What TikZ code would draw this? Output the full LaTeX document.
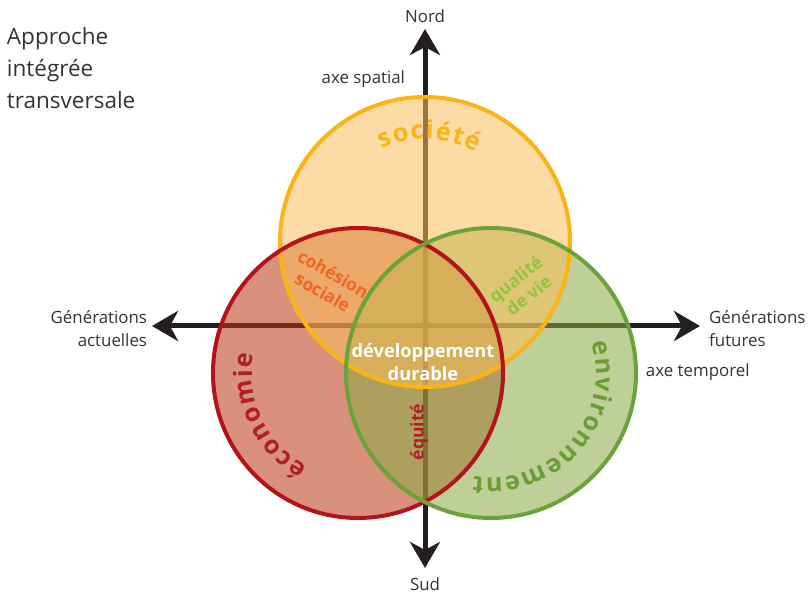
\documentclass[tikz,border=0pt]{standalone}
\usepackage{fontspec}
\setmainfont{Open Sans}
\usetikzlibrary{arrows.meta,positioning,calc,decorations.text}
\definecolor{axegrey}{HTML}{231F20}
\definecolor{socline}{HTML}{FBB416}
\definecolor{socfill}{HTML}{FBBE5B}
\definecolor{ecoline}{HTML}{B5121B}
\definecolor{ecofill}{HTML}{BA3713}
\definecolor{ecotext}{HTML}{B01E28}
\definecolor{envline}{HTML}{6BA33A}
\definecolor{envfill}{HTML}{89AA44}
\definecolor{envtext}{HTML}{6A9E35}
\definecolor{cohtext}{HTML}{F26522}
\definecolor{quatext}{HTML}{8DC63F}
\definecolor{equtext}{HTML}{B01E2D}
\definecolor{textgrey}{HTML}{333333}
\newcommand\arcfont{\fontsize{18}{21}\selectfont\bfseries}
\tikzset{axe/.style={{Stealth[length=0.65cm,width=0.75cm,inset=0.2cm]}-{Stealth[length=0.65cm,width=0.75cm,inset=0.2cm]},line width=0.125cm,draw=axegrey}, ring/.style={line width=0.1cm}, zone/.style={fill opacity=0.55}, lbl/.style={font=\fontsize{12}{16.4}\selectfont,text=textgrey,align=center}, zonelbl/.style={font=\fontsize{12.5}{15}\selectfont\bfseries,align=center,inner sep=0pt}, arclabel/.style 2 args={decorate,decoration={text along path,text={|\arcfont\kern1pt|#1},text align=center,text color=#2}}}

\begin{document}
\begin{tikzpicture}[x=0.025cm,y=0.025cm]
\useasboundingbox (0,0) rectangle (812,599);
% axis ends and circle centres
\coordinate (nord) at (425,570);
\coordinate (sud) at (425,31);
\coordinate (ouest) at (152,273);
\coordinate (est) at (700,273);
\coordinate (soc) at (425,357);
\coordinate (eco) at (358,226);
\coordinate (env) at (491,226);

\draw[axe] (sud) -- (nord);
\draw[axe] (ouest) -- (est);

% see-through discs first, rims on top
\fill[zone,ecofill] (eco) circle[radius=145];
\fill[zone,envfill] (env) circle[radius=145];
\fill[zone,socfill] (soc) circle[radius=145];
\draw[ring,socline] (soc) circle[radius=145];
\draw[ring,ecoline] (eco) circle[radius=145];
\draw[ring,envline] (env) circle[radius=145];

\path[arclabel={société}{socline}] ($(soc)+(150:103)$) arc[start angle=150,end angle=26,radius=103];
\path[arclabel={économie}{ecotext}] ($(eco)+(275:106)$) arc[start angle=275,end angle=137,radius=106];
\path[arclabel={environnement}{envtext}] ($(env)+(40:105)$) arc[start angle=40,end angle=-122,radius=105];

\node[zonelbl,text=cohtext,rotate=-30] (coh) at (328,316) {cohésion\\sociale};
\node[zonelbl,text=quatext,rotate=38] (qua) at (522,312) {qualité\\de vie};
\node[zonelbl,text=white,font=\fontsize{13}{16}\selectfont\bfseries] (dd) at (423,237) {développement\\durable};
\node[zonelbl,text=equtext,rotate=90] (equ) at (419,167) {équité};

\node[lbl,above=1pt of nord] (nordlbl) {Nord};
\node[lbl,below=3pt of sud] (sudlbl) {Sud};
\node[lbl,left=0pt of ouest,align=right,yshift=-2pt] (actu) {Générations\\actuelles};
\node[lbl,right=3pt of est,align=left,yshift=-2pt] (futu) {Générations\\futures};
\node[lbl,anchor=west] (temp) at (641,227) {axe temporel};
\node[lbl,anchor=east] (spat) at (410,520) {axe spatial};
\node[lbl,anchor=north west,align=left,font=\fontsize{16}{22.8}\selectfont] (titre) at (2,577) {Approche\\intégrée\\transversale};
\end{tikzpicture}
\end{document}
